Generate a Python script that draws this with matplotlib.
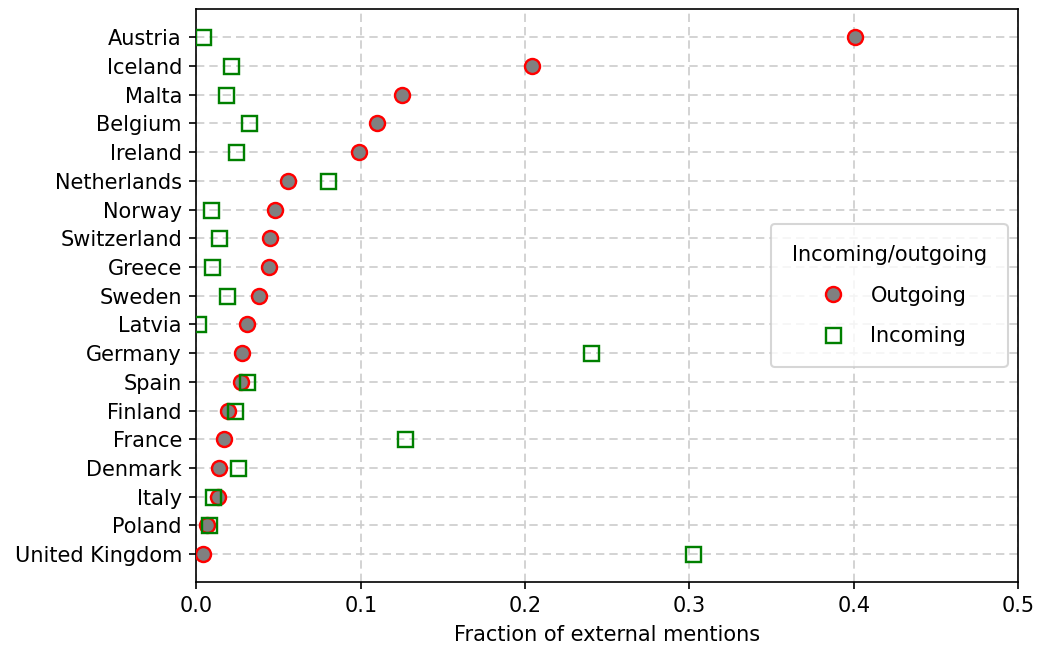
import matplotlib
matplotlib.use("Agg")
import matplotlib.pyplot as plt
import numpy as np

countries = ["Austria", "Iceland", "Malta", "Belgium", "Ireland", "Netherlands",
             "Norway", "Switzerland", "Greece", "Sweden", "Latvia", "Germany",
             "Spain", "Finland", "France", "Denmark", "Italy", "Poland",
             "United Kingdom"]
outgoing = [0.401, 0.204, 0.125, 0.110, 0.099, 0.056, 0.048, 0.045, 0.044,
            0.038, 0.031, 0.028, 0.027, 0.019, 0.017, 0.014, 0.013, 0.0065, 0.004]
incoming = [0.004, 0.021, 0.018, 0.032, 0.024, 0.080, 0.009, 0.0135, 0.0095,
            0.0185, 0.001, 0.240, 0.0305, 0.0235, 0.127, 0.0255, 0.0102, 0.0074, 0.302]

fig = plt.figure(figsize=(1049/150, 645/150), dpi=150)
ax = fig.add_axes([0.1873, 0.0981, 0.9705 - 0.1873, 0.9853 - 0.0981])

n = len(countries)
ypos = np.arange(n)[::-1]

ax.plot(outgoing, ypos, linestyle="none", marker="o", ms=7.2, mew=1.15,
        mfc="gray", mec="red", label="Outgoing", zorder=3)
ax.plot(incoming, ypos, linestyle="none", marker="s", ms=7.2, mew=1.15,
        mfc="none", mec="green", label="Incoming", zorder=4)

ax.set_yticks(ypos)
ax.set_yticklabels(countries, fontsize=10)
ax.set_ylim(-0.96, n - 1 + 0.97)
ax.set_xlim(0, 0.5)
ax.set_xticks([0.0, 0.1, 0.2, 0.3, 0.4, 0.5])
ax.tick_params(axis="x", labelsize=10)
ax.set_xlabel("Fraction of external mentions", fontsize=10)
ax.grid(True, linestyle=(0, (5, 3)), color="#cccccc", linewidth=0.8)
ax.set_axisbelow(True)

leg = ax.legend(title="Incoming/outgoing", loc="center right", fontsize=10,
                title_fontsize=10, borderpad=1.0, labelspacing=1.0)

fig.savefig("out.png", dpi=150)
